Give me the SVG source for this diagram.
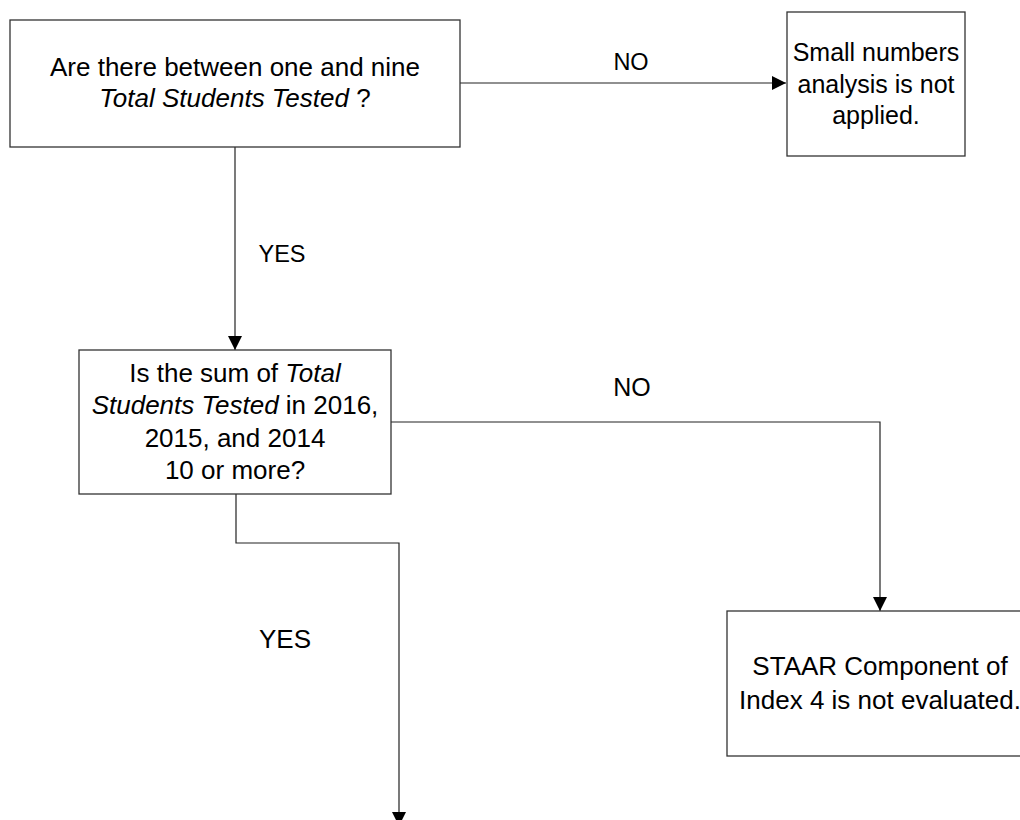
<svg xmlns="http://www.w3.org/2000/svg" width="1020" height="820" viewBox="0 0 1020 820">
<style>
.box{fill:#fff;stroke:#333;stroke-width:1.3}
.t{font-family:"Liberation Sans",Arial,sans-serif;fill:#000;text-anchor:middle}
.i{font-style:italic}
.c{fill:none;stroke:#222;stroke-width:1.2}
</style>
<defs>
<marker id="ah" viewBox="0 0 14 14" refX="14" refY="7" markerWidth="14" markerHeight="14" markerUnits="userSpaceOnUse" orient="auto">
<path d="M0,0 L14,7 L0,14 Z" fill="#000"/>
</marker>
</defs>
<rect width="1020" height="820" fill="#fff"/>
<g id="connectors">
<path class="c" d="M460,83 H786" marker-end="url(#ah)"/>
<path class="c" d="M235,147 V350" marker-end="url(#ah)"/>
<path class="c" d="M391,422 H880 V611" marker-end="url(#ah)"/>
<path class="c" d="M236,494 V543 H399 V826" marker-end="url(#ah)"/>
<text class="t" x="631" y="70" font-size="23.5">NO</text>
<text class="t" x="282" y="262" font-size="23.5">YES</text>
<text class="t" x="632" y="396" font-size="25">NO</text>
<text class="t" x="285" y="648" font-size="26">YES</text>
</g>
<g id="q1">
<rect class="box" x="10" y="20" width="450" height="127"/>
<text class="t" x="235" y="76" font-size="26">Are there between one and nine</text>
<text class="t" x="235" y="107" font-size="26"><tspan class="i">Total Students Tested</tspan> ?</text>
</g>
<g id="n1">
<rect class="box" x="787" y="12" width="178" height="144"/>
<text class="t" x="876" y="61" font-size="25">Small numbers</text>
<text class="t" x="876" y="93" font-size="25">analysis is not</text>
<text class="t" x="876" y="124" font-size="25">applied.</text>
</g>
<g id="q2">
<rect class="box" x="79" y="350" width="312" height="144"/>
<text class="t" x="235" y="382" font-size="26">Is the sum of <tspan class="i">Total</tspan></text>
<text class="t" x="235" y="414" font-size="26"><tspan class="i">Students Tested</tspan> in 2016,</text>
<text class="t" x="235" y="447" font-size="26">2015, and 2014</text>
<text class="t" x="235" y="479" font-size="26">10 or more?</text>
</g>
<g id="n2">
<rect class="box" x="727" y="611" width="306" height="145"/>
<text class="t" x="880" y="675" font-size="26">STAAR Component of</text>
<text class="t" x="880" y="709" font-size="26">Index 4 is not evaluated.</text>
</g>
</svg>
